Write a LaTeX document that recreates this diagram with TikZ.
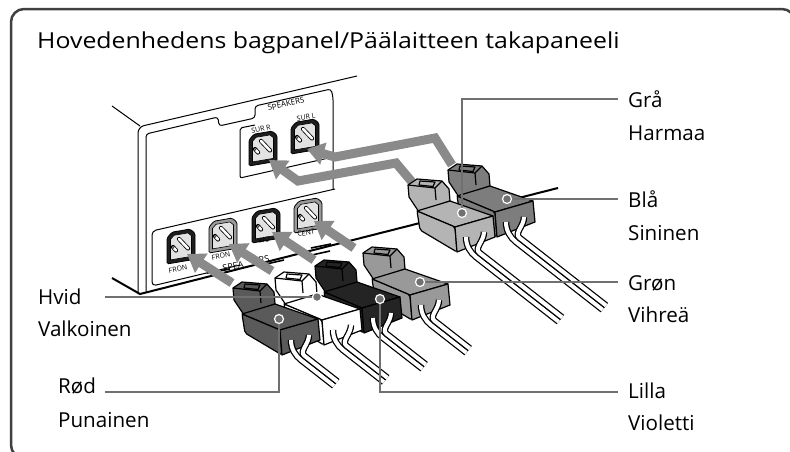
\documentclass[tikz,border=0pt]{standalone}
\usepackage{fontspec}
\setmainfont{Open Sans}
\newfontfamily\titlefont[FakeStretch=1.13]{Open Sans}
\usetikzlibrary{arrows.meta}
\definecolor{framegray}{HTML}{404040}
\definecolor{calloutgray}{HTML}{707070}
\definecolor{arrowgray}{HTML}{8A8A8A}
\definecolor{cgra}{HTML}{B4B4B4}
\definecolor{cbla}{HTML}{7D7D7D}
\definecolor{cgron}{HTML}{999999}
\definecolor{clilla}{HTML}{242424}
\definecolor{chvid}{HTML}{FFFFFF}
\definecolor{crod}{HTML}{5A5A5A}
\definecolor{sockin}{HTML}{E2E2E2}
\definecolor{sockdark}{HTML}{1E1E1E}
\definecolor{socklight}{HTML}{9A9A9A}
\newcommand\drawplug[3]{%
\begin{scope}[shift={(#1,#2)}]
 % latch (rear part)
 \filldraw[pedge, fill=#3] (-36,-15) -- (-46,-30) -- (-47,-42) -- (-38,-48) -- (-13,-46) -- (-6,-38) -- (-5,-26) -- cycle;
 \draw[pedge] (-47,-42) -- (-20,-39) -- (-13,-46);
 \draw[pedge] (-20,-39) -- (-19,-27);
 \filldraw[pedge, fill=#3] (-35,-46) -- (-20,-45) -- (-22,-40.5) -- (-36,-42) -- cycle;
 % body
 \filldraw[pedge, fill=#3] (-38,-16) -- (-5,-26) -- (38,-11) -- (0,0) -- cycle;
 \filldraw[pedge, fill=#3, rounded corners=2pt] (0,0) -- (-38,-16) -- (-35,3) -- (2,25) -- cycle;
 \filldraw[pedge, fill=#3] (0,0) -- (38,-11) -- (40,10) -- (2,25) -- cycle;
\end{scope}}
\newcommand\drawwires[3]{%
 \foreach \ww in {wireo,wirei}{
  \draw[\ww] ({#1+11},{#2+10}) .. controls ({#1+11},{#2+19}) and ({#1+15.5},{#2+25.7}) .. ({#1+21},{#2+30}) -- ({#1+21+0.788*#3},{#2+30+0.616*#3});
 }
 \foreach \ww in {wireo,wirei}{
  \draw[\ww] ({#1+29},{#2+5}) .. controls ({#1+29},{#2+14}) and ({#1+18.9},{#2+21.4}) .. ({#1+24.4},{#2+25.7}) -- ({#1+24.4+0.788*#3},{#2+25.7+0.616*#3});
 }}
\newcommand\drawsocket[3]{%
\begin{scope}[shift={(#1,#2)}, yslant=0.17]
 \filldraw[line width=0.8pt, fill=#3, rounded corners=1.5pt] (0,5) -- (5,0) -- (23,0) -- (28,5) -- (28,31) -- (0,31) -- cycle;
 \filldraw[line width=0.6pt, fill=sockin] (3.5,7) -- (7,3.5) -- (21,3.5) -- (24.5,7) -- (24.5,27.5) -- (3.5,27.5) -- cycle;
 \draw[line width=4.2pt, line cap=round] (12,8) -- (21,19);
 \draw[line width=2.6pt, white, line cap=round] (12,8) -- (21,19);
 \draw[line width=4.2pt, line cap=round] (6,15) -- (9,19);
 \draw[line width=2.6pt, white, line cap=round] (6,15) -- (9,19);
 \draw[line width=0.6pt] (6,15) circle (1.4);
\end{scope}}
\begin{document}
\begin{tikzpicture}[x=1pt,y=-1pt,
  lbl/.style={anchor=base west, inner sep=0pt, font=\fontsize{20.6}{20.6}\selectfont},
  ttl/.style={anchor=base west, inner sep=0pt, font=\titlefont\fontsize{22}{22}\selectfont},
  callout/.style={draw=calloutgray, line width=2pt},
  dot/.style={circle, fill=calloutgray, draw=white, line width=1.2pt, inner sep=0pt, minimum size=9pt},
  edge/.style={line width=1pt, line join=round},
  pedge/.style={line width=1.2pt, line join=round},
  arr/.style={draw=arrowgray, line width=9pt, line join=miter, -{Triangle[length=17pt,width=22pt]}},
  wireo/.style={line width=6.5pt, black},
  wirei/.style={line width=4pt, white},
  tiny/.style={font=\fontsize{7}{7}\selectfont, inner sep=0pt, rotate=10},
]
\useasboundingbox (0,0) rectangle (790,451);
\clip (0,0) rectangle (790,451);
\draw[line width=2.5pt, draw=framegray, rounded corners=13pt] (11,9) rectangle (795,458);
\node[ttl] (title) at (37,48.5) {Hovedenhedens bagpanel/Päälaitteen takapaneeli};

% receiver back panel
\draw[edge] (112,106) -- (140,126);
\draw[edge, rounded corners=6pt] (138,294) -- (138,127) -- (357,76);
\draw[edge, rounded corners=3pt] (146,292) -- (146,134) -- (218,117) -- (219,126) -- (255,118) -- (255,106) -- (331,89) -- (333,97) -- (333,189);
\draw[edge, rounded corners=2pt] (255,125) -- (240,128) -- (240,178) -- (333,157);
\draw[edge, rounded corners=4pt] (335,189) -- (152,231) -- (152,286) -- (240,265);
\foreach \a/\b/\c/\d in {207/273/230/269, 262/265/284/260, 303/257/330/251, 311/248/331/244}
  \draw[line width=1.6pt] (\a,\b) -- (\c,\d);

% sockets
\drawsocket{249}{135}{sockdark}
\drawsocket{291}{123}{sockdark}
\drawsocket{167}{233}{sockdark}
\drawsocket{209}{222}{socklight}
\drawsocket{252}{212}{sockdark}
\drawsocket{294}{202}{socklight}
\node[tiny, rotate=3, font=\fontsize{8}{8}\selectfont] (tSpk) at (286,104) {SPEAKERS};
\node[tiny] (tSurR) at (261,129) {SUR R};
\node[tiny] (tSurL) at (306,117) {SUR L};
\node[tiny] (tFrL) at (178,269) {FRON};
\node[tiny] (tFrR) at (221,256) {FRON};
\node[tiny, font=\fontsize{9}{9}\selectfont] (tSpea) at (233,266) {SPEA};
\node[tiny, font=\fontsize{9}{9}\selectfont] (tRs) at (264,259) {RS};
\node[tiny] (tWo) at (264,240) {WO};
\node[tiny] (tCent) at (306,233) {CENT};

% receiver bottom edge
\draw[line width=2pt] (112,278) -- (140,294) -- (558,188);

% arrows
\draw[arr] (232,283) -- (187,254);
\draw[arr] (272,271) -- (229,244);
\draw[arr] (314,260) -- (272,232);
\draw[arr] (354,248) -- (314,221);
\draw[arr] (412,182) -- (396,163) -- (298,181) -- (269,160);
\draw[arr] (452,165) -- (435,138) -- (335,157) -- (307,149);

% plugs, back to front
\drawplug{495}{212}{cbla}\drawwires{495}{212}{110}
\drawplug{455}{227}{cgra}\drawwires{455}{227}{105}
\drawplug{410}{295}{cgron}\drawwires{410}{295}{45}
\drawplug{362}{308}{clilla}\drawwires{362}{308}{50}
\drawplug{322}{320}{chvid}\drawwires{322}{320}{52}
\drawplug{280}{330}{crod}\drawwires{280}{330}{42}

% callouts
\coordinate (pGra) at (462,213);
\coordinate (pBla) at (507,199);
\coordinate (pGron) at (420,282);
\coordinate (pLilla) at (380,299);
\coordinate (pHvid) at (317,297);
\coordinate (pRod) at (279,319);
\coordinate (cGra) at (618,99);
\coordinate (cBla) at (618,199);
\coordinate (cGron) at (618,282);
\coordinate (cLilla) at (618,392);
\coordinate (cHvid) at (105,297);
\coordinate (cRod) at (105,392);
\draw[callout] (pGra) |- (cGra);
\draw[callout] (pBla) -- (cBla);
\draw[callout] (pGron) -- (cGron);
\draw[callout] (pLilla) |- (cLilla);
\draw[callout] (pHvid) -- (cHvid);
\draw[callout] (pRod) |- (cRod);
\foreach \p in {Gra,Bla,Gron,Lilla,Hvid,Rod}
  \node[dot] (d\p) at (p\p) {};

% labels
\node[lbl] (lGra) at (628,107) {Grå};
\node[lbl] (lHarmaa) at (628,140) {Harmaa};
\node[lbl] (lBla) at (628,207) {Blå};
\node[lbl] (lSininen) at (628,240) {Sininen};
\node[lbl] (lGron) at (628,290) {Grøn};
\node[lbl] (lVihrea) at (628,322) {Vihreä};
\node[lbl] (lLilla) at (628,398) {Lilla};
\node[lbl] (lVioletti) at (628,430) {Violetti};
\node[lbl] (lHvid) at (38,304) {Hvid};
\node[lbl] (lValkoinen) at (38,336.5) {Valkoinen};
\node[lbl] (lRod) at (58,393) {Rød};
\node[lbl] (lPunainen) at (58,427) {Punainen};
\end{tikzpicture}
\end{document}
